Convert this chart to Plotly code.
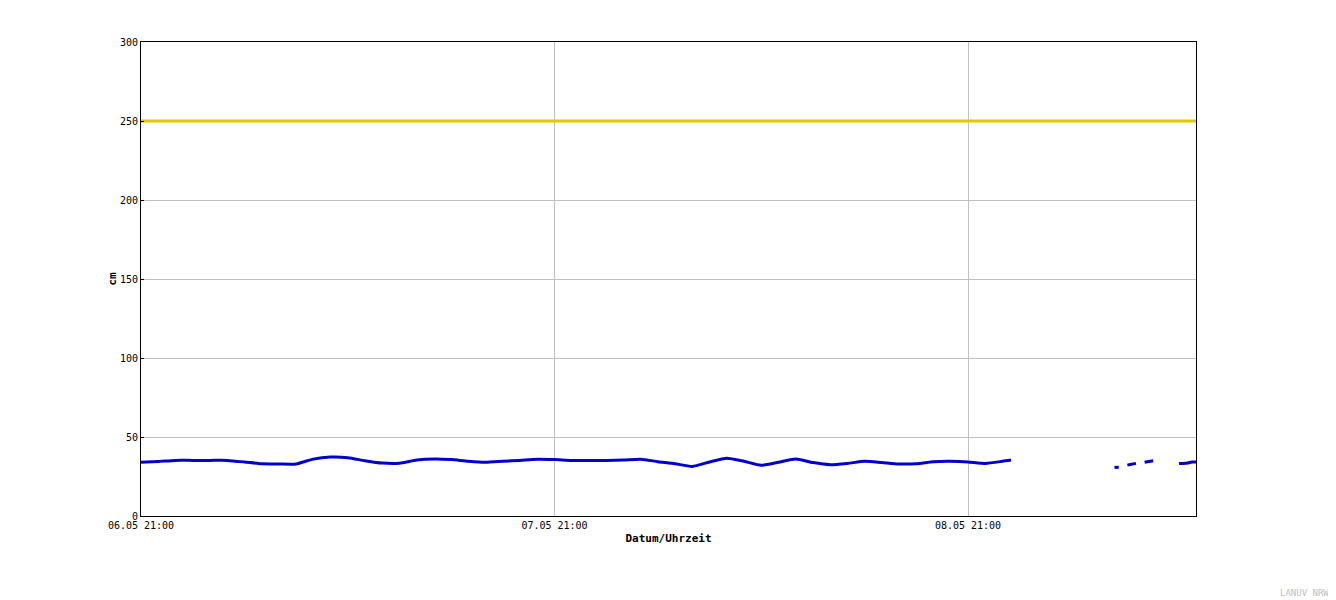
import plotly.graph_objects as go
from datetime import datetime, timedelta

start = datetime(2024, 5, 6, 21, 0)
end = datetime(2024, 5, 9, 10, 14)

# hours after start, water level (cm); None = gap
hours = [0, 1, 2, 3, 4, 5, 6, 7, 8, 9, 10, 11, 12, 13, 14, 15, 16, 17, 18, 19,
         20, 21, 22, 23, 24, 25, 26, 27, 28, 29, 30, 31, 32, 33, 34, 35, 36, 37,
         38, 39, 40, 41, 42, 43, 44, 45, 46, 47, 48, 49, 50, 50.5, 51,
         56.5, 56.75, 57.0, 57.25, 57.5, 57.75, 58.0, 58.25, 58.5, 58.75, 59.0,
         60.25, 60.5, 60.75, 61.0, 61.25]
level = [34.0, 34.5, 35.2, 35.2, 35.2, 35.2, 34.2, 33.0, 32.9, 32.9, 36.0, 37.3,
         36.9, 35.0, 33.5, 33.4, 35.4, 36.1, 35.7, 34.6, 34.0, 34.6, 35.2, 35.9,
         35.7, 35.2, 35.2, 35.2, 35.4, 35.9, 34.4, 33.1, 31.4, 34.2, 36.5, 34.6,
         32.1, 34.0, 36.1, 33.8, 32.5, 33.3, 34.6, 33.8, 32.9, 33.1, 34.4, 34.6,
         34.2, 33.3, 34.6, 35.4, None,
         30.8, 30.8, None, 32.2, 32.8, 33.3, None, 34.0, 34.5, 34.9, None,
         33.3, 33.3, 33.5, 34.2, 34.2]

warn_hours = [0, 61.25]
warn_level = [250, 250]

tick_labels = ["06.05 21:00", "07.05 21:00", "08.05 21:00"]
tick_hours = [0, 24, 48]

times = [start + timedelta(hours=h) for h in hours]
warn_times = [start + timedelta(hours=h) for h in warn_hours]
tick_times = [start + timedelta(hours=h) for h in tick_hours]

font = "DejaVu Sans Mono"

fig = go.Figure()
fig.add_trace(go.Scatter(x=warn_times, y=warn_level, mode="lines",
                         line=dict(color="#e0c800", width=3), showlegend=False))
fig.add_trace(go.Scatter(x=times, y=level, mode="lines", connectgaps=False,
                         line=dict(color="#0000cc", width=3, shape="spline", smoothing=0.6),
                         showlegend=False))

# page body has an 8px margin: figure occupies 8..1336 x 8..600
fig.update_layout(
    width=1328, height=592,
    margin=dict(l=133, r=140, t=34, b=84),
    paper_bgcolor="white", plot_bgcolor="white",
    font=dict(family=font, size=10, color="black"),
    xaxis=dict(range=[start, end], tickvals=tick_times, ticktext=tick_labels,
               showgrid=True, gridcolor="#c0c0c0", gridwidth=1,
               showline=True, linecolor="black", linewidth=1, mirror=True,
               ticks="", zeroline=False, tickfont=dict(size=10),
               title=dict(text="<b>Datum/Uhrzeit</b>", font=dict(family=font, size=11), standoff=4)),
    yaxis=dict(range=[0, 300], dtick=50, showgrid=True, gridcolor="#c0c0c0",
               gridwidth=1, showline=True, linecolor="black", linewidth=1,
               mirror=True, ticks="inside", ticklen=3, tickcolor="black",
               zeroline=False, tickfont=dict(size=10),
               title=dict(text="<b>cm</b>", font=dict(family=font, size=11), standoff=1)),
)
fig.add_annotation(text="LANUV NRW", xref="paper", yref="paper",
                   x=(1331 - 141) / (1196 - 141), y=-(593 - 516) / (516 - 42),
                   xanchor="right", yanchor="middle", showarrow=False,
                   font=dict(family=font, size=9, color="#c0c0c0"))

fig.write_html("out.html")
